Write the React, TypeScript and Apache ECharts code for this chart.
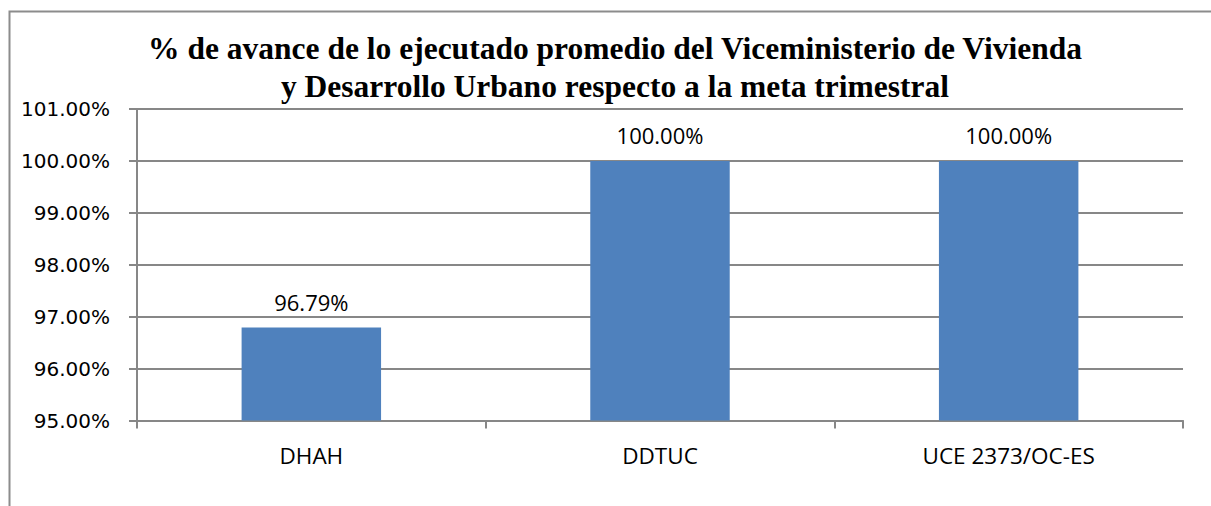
import React, { useEffect, useRef } from "react";
import * as echarts from "echarts";

const titleLines = [
  "% de avance de lo ejecutado promedio del Viceministerio de Vivienda",
  "y Desarrollo Urbano respecto a la meta trimestral",
];
const categories = ["DHAH", "DDTUC", "UCE 2373/OC-ES"];
const values = [96.79, 100.0, 100.0];
const yMin = 95;
const yMax = 101;
const yInterval = 1;

export default function App() {
  const ref = useRef<HTMLDivElement>(null);
  useEffect(() => {
    if (!ref.current) return;
    const chart = echarts.init(ref.current, null, { renderer: "svg" });
    const axisGray = "#878787";
    chart.setOption({
      animation: false,
      backgroundColor: "#ffffff",
      grid: { left: 137, right: 28, top: 109, bottom: 85.5, containLabel: false },
      xAxis: {
        type: "category",
        data: categories,
        boundaryGap: true,
        axisLine: { show: true, lineStyle: { color: axisGray, width: 2 } },
        axisTick: { show: true, length: 8, alignWithLabel: false, lineStyle: { color: axisGray, width: 2 } },
        axisLabel: {
          margin: 23,
          color: "#000",
          fontFamily: "Open Sans",
          fontSize: 22.5,
        },
      },
      yAxis: {
        type: "value",
        min: yMin,
        max: yMax,
        interval: yInterval,
        axisLine: { show: true, lineStyle: { color: axisGray, width: 2 } },
        axisTick: { show: true, length: 8, lineStyle: { color: axisGray, width: 2 } },
        splitLine: { show: true, lineStyle: { color: axisGray, width: 2 } },
        axisLabel: {
          margin: 27,
          color: "#000",
          fontFamily: "DejaVu Sans",
          fontSize: 20,
          formatter: (v: number) => v.toFixed(2) + "%",
        },
      },
      series: [
        {
          type: "bar",
          data: values,
          barWidth: "40%",
          itemStyle: { color: "#4F81BD" },
          label: {
            show: true,
            position: "top",
            distance: 15,
            color: "#000",
            fontFamily: "Open Sans",
            fontSize: 22,
            formatter: (p: any) => Number(p.value).toFixed(2) + "%",
          },
        },
      ],
      graphic: [
        {
          type: "polyline",
          silent: true,
          shape: { points: [[9.5, 506], [9.5, 11.5], [1211, 11.5]] },
          style: { stroke: "#8c8c8c", lineWidth: 2, fill: "none" },
        },
        {
          type: "text",
          x: 615,
          y: 48,
          style: {
            text: titleLines[0],
            textAlign: "center",
            textVerticalAlign: "middle",
            fill: "#000",
            font: "bold 31.5px 'Liberation Serif'",
          },
        },
        {
          type: "text",
          x: 615,
          y: 86,
          style: {
            text: titleLines[1],
            textAlign: "center",
            textVerticalAlign: "middle",
            fill: "#000",
            font: "bold 31.5px 'Liberation Serif'",
          },
        },
      ],
    });
    return () => chart.dispose();
  }, []);
  return (
    <div
      ref={ref}
      style={{ position: "absolute", left: 0, top: 0, width: 1211, height: 506 }}
    />
  );
}
